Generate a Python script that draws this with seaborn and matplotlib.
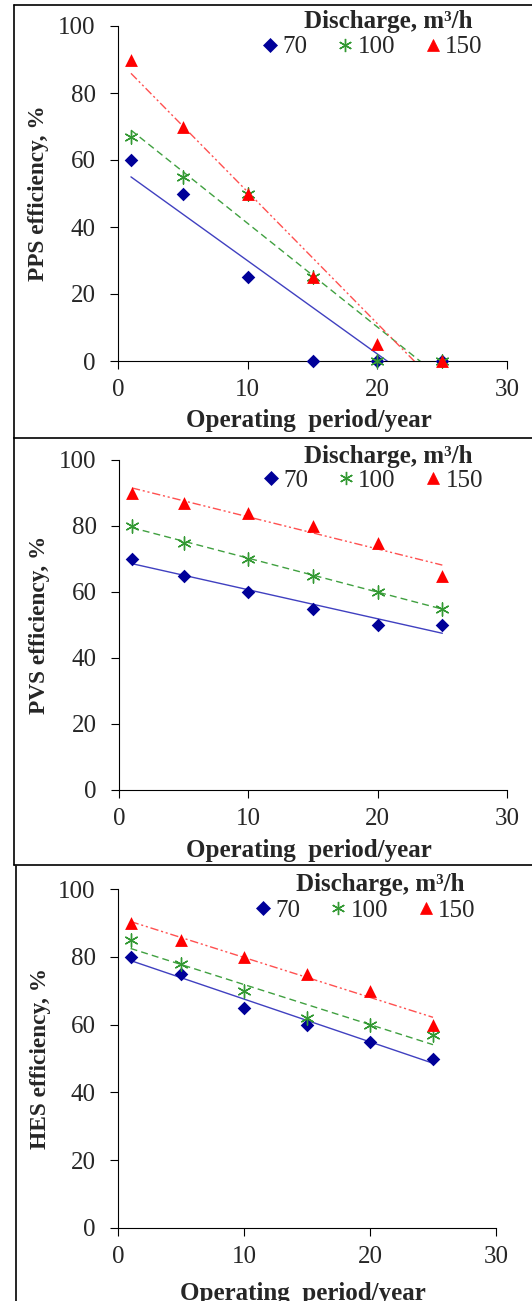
import matplotlib.pyplot as plt
import seaborn as sns
from matplotlib.lines import Line2D

# data
years = [1, 5, 10, 15, 20, 25]
discharges = ['70', '100', '150']

pps_70 = [60, 50, 25, 0, 0, 0]
pps_100 = [67, 55, 50, 25, 0, 0]
pps_150 = [90, 70, 50, 25, 5, 0]

pvs_70 = [70, 65, 60, 55, 50, 50]
pvs_100 = [80, 75, 70, 65, 60, 55]
pvs_150 = [90, 87, 84, 80, 75, 65]

hes_70 = [80, 75, 65, 60, 55, 50]
hes_100 = [85, 78, 70, 62, 60, 57]
hes_150 = [90, 85, 80, 75, 70, 60]

x_ticks = [0, 10, 20, 30]
y_ticks = [0, 20, 40, 60, 80, 100]

sns.set_style('ticks')
plt.rcParams['font.family'] = ['Liberation Serif', 'DejaVu Serif']

W, H = 532, 1301
fig = plt.figure(figsize=(W / 100, H / 100), dpi=100)
FS = 18

styles = [
    dict(marker='D', color='#000099', s=48, lw=0, line='#4040C0', ls='-', ms=6.9),
    dict(marker=(6, 2, 0), color='#339933', s=90, lw=1.0, line='#40A040', ls=(0, (5, 3)), ms=9.5),
    dict(marker='^', color='#FF0000', s=85, lw=0, line='#FF5050', ls=(0, (6, 2, 1.5, 2, 1.5, 2)), ms=9.2),
]

# (label, series, axes box in px: left, top, right, bottom, xlabel offset)
panels = [
    ('PPS efficiency, %', [pps_70, pps_100, pps_150], (118, 26, 507, 361), -0.143),
    ('PVS efficiency, %', [pvs_70, pvs_100, pvs_150], (119, 460, 507, 790), -0.150),
    ('HES efficiency, %', [hes_70, hes_100, hes_150], (118, 889, 496, 1228), -0.160),
]

for ylabel, series, (l, t, r, b), xl_off in panels:
    ax = fig.add_axes([l / W, 1 - b / H, (r - l) / W, (b - t) / H])
    for vals, st in zip(series, styles):
        sns.regplot(x=years, y=vals, ax=ax, ci=None, marker=st['marker'], color=st['color'],
                    scatter_kws=dict(s=st['s'], alpha=1, clip_on=False, zorder=3, linewidths=st['lw']),
                    line_kws=dict(color=st['line'], lw=1.0, linestyle=st['ls'], zorder=2))

    ax.set_xlim(0, 30)
    ax.set_ylim(0, 100)
    ax.set_xticks(x_ticks)
    ax.set_yticks(y_ticks)
    ax.spines[['top', 'right']].set_visible(False)
    for sp in ax.spines.values():
        sp.set_linewidth(0.8)
        sp.set_color('black')
    ax.tick_params(axis='both', direction='out', length=6, width=0.8, labelsize=FS, color='black')
    ax.tick_params(axis='y', pad=10)
    ax.tick_params(axis='x', pad=7)

    ax.set_xlabel('Operating  period/year', fontsize=FS, fontweight='bold')
    ax.xaxis.set_label_coords(0.49, xl_off)
    ax.xaxis.label.set_va('top')
    ax.set_ylabel(ylabel, fontsize=16.8, fontweight='bold')
    ax.yaxis.set_label_coords(-0.178, 0.5)

    ax.text(0.694, 1.012, 'Discharge, m³/h', transform=ax.transAxes, fontsize=FS,
            fontweight='bold', ha='center', va='center')
    handles = [Line2D([], [], marker=st['marker'], color=st['color'], linestyle='None',
                      markersize=st['ms'], markeredgewidth=st['lw'] if st['lw'] else 0.5)
               for st in styles]
    ax.legend(handles, discharges, ncol=3, loc='center', bbox_to_anchor=(0.655, 0.937),
              frameon=False, fontsize=FS, handlelength=0.6, handletextpad=0.2,
              columnspacing=1.2, borderpad=0, borderaxespad=0)


def hline(y, x0, x1):
    fig.add_artist(Line2D([x0 / W, x1 / W], [1 - y / H, 1 - y / H], color='black', lw=1.2))


def vline(x, y0, y1):
    fig.add_artist(Line2D([x / W, x / W], [1 - y0 / H, 1 - y1 / H], color='black', lw=1.2))


# panel frames
hline(5, 14, W)
vline(14, 5, 438)
hline(438, 14, W)
vline(14, 438, 865)
hline(865, 14, W)
vline(16, 866, H)

fig.savefig('out.png', dpi=100)
